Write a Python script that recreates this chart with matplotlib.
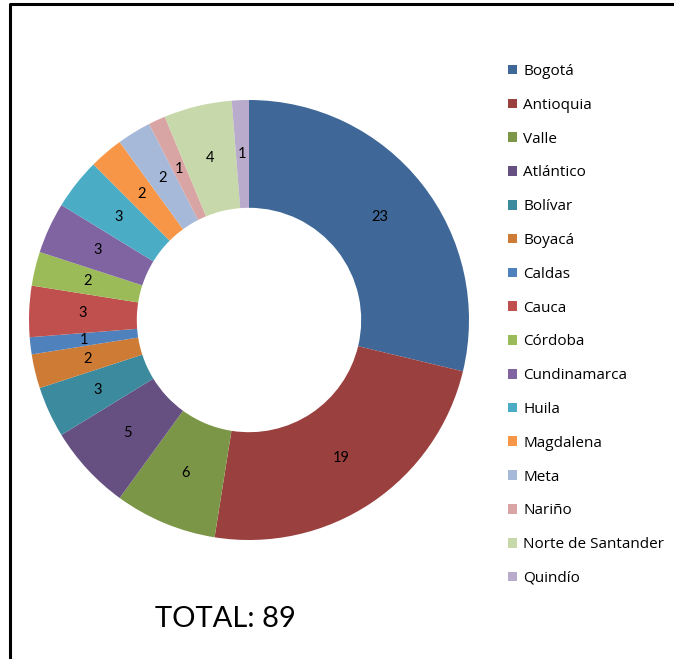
import matplotlib.pyplot as plt
from matplotlib.lines import Line2D

# Data
regions = [
    "Bogotá", "Antioquia", "Valle", "Atlántico", "Bolívar", "Boyacá",
    "Caldas", "Cauca", "Córdoba", "Cundinamarca", "Huila", "Magdalena",
    "Meta", "Nariño", "Norte de Santander", "Quindío",
]
counts = [23, 19, 6, 5, 3, 2, 1, 3, 2, 3, 3, 2, 2, 1, 4, 1]
total_label = "TOTAL: 89"

colors = [
    "#3F6797", "#9A403E", "#7C9647", "#665082", "#3C8A9E", "#CE7B36",
    "#4F81BD", "#C0504D", "#9BBB59", "#8064A2", "#4BACC6", "#F79646",
    "#A6B9D8", "#D9A5A4", "#C7D8AA", "#B8ABCB",
]

plt.rcParams["font.family"] = ["Lato", "DejaVu Sans"]

W, H = 674, 659
fig = plt.figure(figsize=(W / 100, H / 100), dpi=100)

# Donut axes: center (249, 320) px, outer radius 220 px
cx, cy, R = 249, 320, 220
ax = fig.add_axes([(cx - R) / W, (H - cy - R) / H, 2 * R / W, 2 * R / H])

vals = iter(counts)
wedges, texts, autotexts = ax.pie(
    counts,
    colors=colors,
    startangle=90,
    counterclock=False,
    radius=1,
    wedgeprops=dict(width=0.49, linewidth=0),
    autopct=lambda p: str(next(vals)),
    pctdistance=0.755,
    textprops=dict(fontsize=10.5, color="black"),
)
ax.set_xlim(-1, 1)
ax.set_ylim(-1, 1)
ax.set_aspect("equal")
ax.axis("off")

# Legend
leg = ax.legend(
    wedges,
    regions,
    loc="upper left",
    bbox_to_anchor=(508 / W, 1 - 64 / H),
    bbox_transform=fig.transFigure,
    frameon=False,
    prop=dict(family=["Open Sans", "DejaVu Sans"], size=11),
    handlelength=0.6,
    handleheight=0.6,
    handletextpad=0.4,
    labelspacing=1.23,
    borderpad=0,
    borderaxespad=0,
)
for h in leg.legend_handles:
    h.set_edgecolor("none")

# Total text
fig.text(155 / W, 1 - 619 / H, total_label, fontsize=21, ha="left", va="center")

# Border lines (top and left)
fig.add_artist(Line2D([10 / W, 10 / W, 1], [0, 1 - 4 / H, 1 - 4 / H],
                      transform=fig.transFigure, color="black", lw=2.2))

fig.savefig("out.png", dpi=100)
